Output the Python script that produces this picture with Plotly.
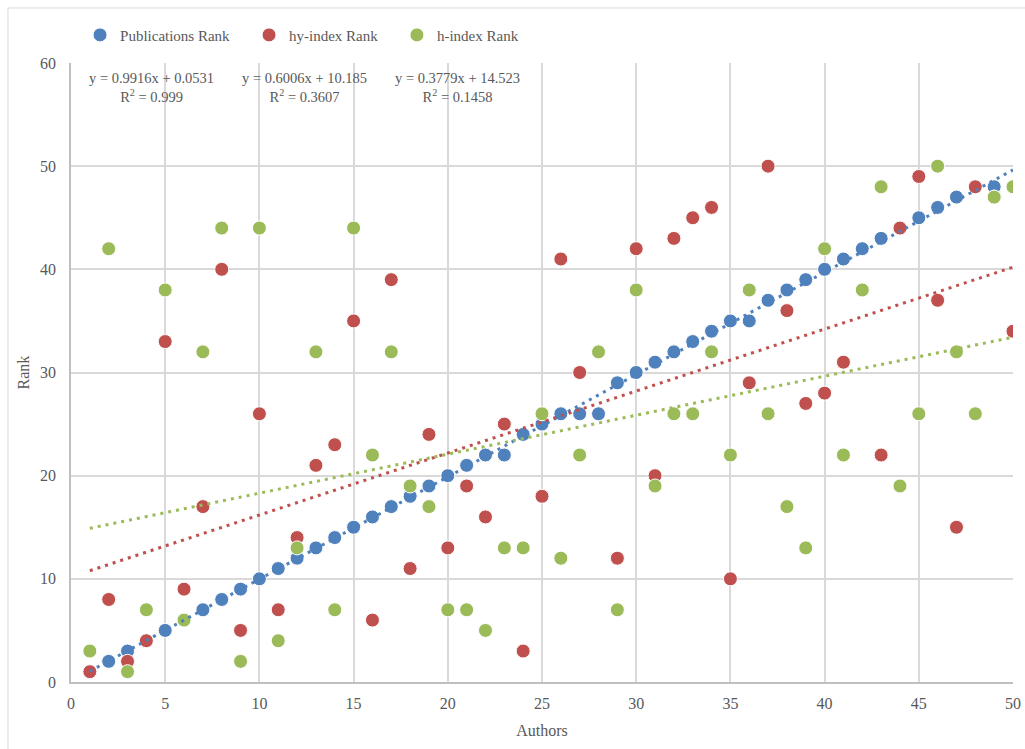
import numpy as np
import plotly.graph_objects as go

# Author index (x) and the three rankings (y)
authors = list(range(1, 51))
publications_rank = [1, 2, 3, 4, 5, 6, 7, 8, 9, 10,
                     11, 12, 13, 14, 15, 16, 17, 18, 19, 20,
                     21, 22, 22, 24, 25, 26, 26, 26, 29, 30,
                     31, 32, 33, 34, 35, 35, 37, 38, 39, 40,
                     41, 42, 43, 44, 45, 46, 47, 48, 48, 48]
hy_index_rank = [1, 8, 2, 4, 33, 9, 17, 40, 5, 26,
                 7, 14, 21, 23, 35, 6, 39, 11, 24, 13,
                 19, 16, 25, 3, 18, 41, 30, 32, 12, 42,
                 20, 43, 45, 46, 10, 29, 50, 36, 27, 28,
                 31, 38, 22, 44, 49, 37, 15, 48, 47, 34]
h_index_rank = [3, 42, 1, 7, 38, 6, 32, 44, 2, 44,
                4, 13, 32, 7, 44, 22, 32, 19, 17, 7,
                7, 5, 13, 13, 26, 12, 22, 32, 7, 38,
                19, 26, 26, 32, 22, 38, 26, 17, 13, 42,
                22, 38, 48, 19, 26, 50, 32, 26, 47, 48]

series_names = ["Publications Rank", "hy-index Rank", "h-index Rank"]
series_values = [publications_rank, hy_index_rank, h_index_rank]
series_colors = ["#4F81BD", "#C0504D", "#9BBB59"]

# Equation label anchor (data coords) for each trendline
label_x = [4.25, 12.4, 20.5]
label_y = 57.6
# Legend entry positions (paper coords)
legend_x = [0.0096, 0.189, 0.346]

FONT = "Liberation Serif"
TEXT_COLOR = "#595959"
GRID = "#d9d9d9"


def fmt(v):
    return f"{round(v, 4):.5g}"


fig = go.Figure()

# Scatter markers, one legend box per series
legend_ids = ["legend", "legend2", "legend3"]
for name, vals, color, lid in zip(series_names, series_values, series_colors, legend_ids):
    fig.add_trace(go.Scatter(
        x=authors, y=vals, mode="markers", name=name,
        marker=dict(color=color, size=14, line=dict(color="white", width=1)),
        legend=lid,
    ))

# Linear trendlines drawn on top of the markers, with equation labels
annotations = []
x_arr = np.array(authors, dtype=float)
for vals, color, lx in zip(series_values, series_colors, label_x):
    y_arr = np.array(vals, dtype=float)
    slope, intercept = np.polyfit(x_arr, y_arr, 1)
    fitted = slope * x_arr + intercept
    r2 = 1 - np.sum((y_arr - fitted) ** 2) / np.sum((y_arr - y_arr.mean()) ** 2)
    fig.add_trace(go.Scatter(
        x=[x_arr[0], x_arr[-1]], y=[fitted[0], fitted[-1]], mode="lines",
        line=dict(color=color, width=3, dash="3px,5px"),
        showlegend=False, hoverinfo="skip",
    ))
    sign = "+" if intercept >= 0 else "-"
    text = (f"y = {fmt(slope)}x {sign} {fmt(abs(intercept))}<br>"
            f"R<sup>2</sup> = {fmt(r2)}")
    annotations.append(dict(
        x=lx, y=label_y, xref="x", yref="y", text=text, showarrow=False,
        xanchor="center", yanchor="middle", align="center",
        font=dict(family=FONT, size=14.5, color=TEXT_COLOR),
    ))

legend_common = dict(
    orientation="h", y=1.045, yanchor="middle", xanchor="left",
    bgcolor="rgba(0,0,0,0)", borderwidth=0,
    font=dict(family=FONT, size=15, color=TEXT_COLOR),
)

fig.update_layout(
    width=1025, height=749,
    margin=dict(l=71, r=12, t=63, b=67),
    paper_bgcolor="white", plot_bgcolor="white",
    font=dict(family=FONT, color=TEXT_COLOR),
    legend=dict(x=legend_x[0], **legend_common),
    legend2=dict(x=legend_x[1], **legend_common),
    legend3=dict(x=legend_x[2], **legend_common),
    annotations=annotations,
    shapes=[dict(type="rect", xref="paper", yref="paper",
                 x0=-0.0669, y0=-0.2, x1=1.1, y1=1.0889,
                 line=dict(color=GRID, width=1), layer="below")],
    xaxis=dict(
        range=[0, 50], dtick=5, tick0=0, automargin=False,
        showgrid=True, gridcolor=GRID, gridwidth=1.5, zeroline=False,
        showline=True, linecolor="#bfbfbf", linewidth=1.5,
        ticks="", ticklabelstandoff=6,
        tickfont=dict(family=FONT, size=16, color=TEXT_COLOR),
        title=dict(text="Authors", standoff=14,
                   font=dict(family=FONT, size=16, color=TEXT_COLOR)),
    ),
    yaxis=dict(
        range=[0, 60], dtick=10, tick0=0, automargin=False,
        showgrid=True, gridcolor=GRID, gridwidth=1.5, zeroline=False,
        showline=True, linecolor="#bfbfbf", linewidth=1.5,
        ticks="", ticklabelstandoff=10,
        tickfont=dict(family=FONT, size=16, color=TEXT_COLOR),
        title=dict(text="Rank", standoff=6,
                   font=dict(family=FONT, size=16, color=TEXT_COLOR)),
    ),
)

fig.write_html("out.html")
